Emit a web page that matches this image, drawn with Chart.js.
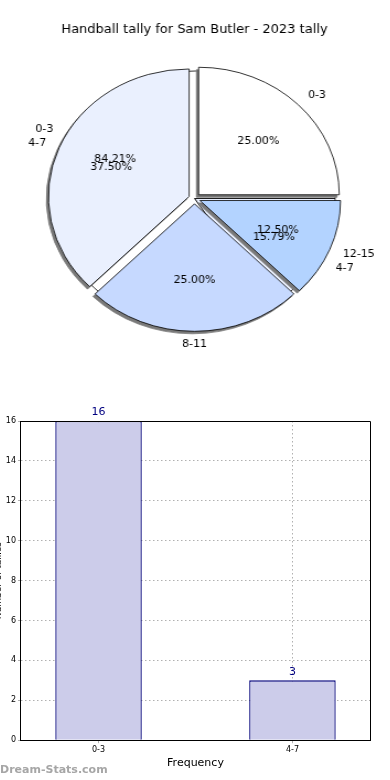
<!DOCTYPE html>
<html>
<head>
<meta charset="utf-8">
<script src="https://cdn.jsdelivr.net/npm/chart.js@4.4.1/dist/chart.umd.min.js"></script>
<style>
html, body { margin:0; padding:0; background:#fff; width:390px; height:780px; overflow:hidden; position:relative; }
.box { position:absolute; }
</style>
</head>
<body>
<div class="box" id="pieBackBox"><canvas id="pieBack"></canvas></div>
<div class="box" id="pieFrontBox"><canvas id="pieFront"></canvas></div>
<div class="box" id="barBox"><canvas id="bar"></canvas></div>
<script>
// Chart data
const chartTitle = 'Handball tally for Sam Butler - 2023 tally';

// outer pie: share of each goal band (percent)
const tallyLabels = ['0-3', '4-7', '8-11', '12-15'];
const tallyPct = [25.00, 37.50, 25.00, 12.50];
const tallyColors = ['#ffffff', '#eaf0fe', '#c6d9ff', '#b3d3ff'];

// frequency of each band (bar chart + hidden pie)
const freqLabels = ['0-3', '4-7'];
const freqCounts = [16, 3];
const freqColors = ['#ffffff', '#eaf0fe'];

const yMin = 0, yMax = 16, yStep = 2;

// layout
const PIE_R = 127.5;
const PIE_CX = 194.5;   // pie centre on the page
const PIE_CY = 198.5;
const SX = 1.103;       // the original pie is a bit wider than tall
const EXPLODE = 5.3;    // how far slices are pushed out
const BAR_LEFT = -7;    // y title is cut by the page edge in the original
const FONT = '"DejaVu Sans", sans-serif';

function place(id, left, top, w, h) {
    const s = document.getElementById(id).style;
    s.left = left + 'px'; s.top = top + 'px'; s.width = w + 'px'; s.height = h + 'px';
}
place('pieBackBox', 0, 0, 390, 400);
place('pieFrontBox', 0, 0, 390, 400);
place('barBox', BAR_LEFT, 400, 390 - BAR_LEFT, 380);
['pieBackBox', 'pieFrontBox'].forEach(id => {
    const s = document.getElementById(id).style;
    s.transformOrigin = PIE_CX + 'px 0';
    s.transform = 'scaleX(' + SX + ')';
});

const freqTotal = freqCounts.reduce((a, b) => a + b, 0);
const freqPct = freqCounts.map(v => v / freqTotal * 100);

// matplotlib draws counter-clockwise from 3 o'clock, Chart.js only clockwise -> reverse
const rev = a => a.slice().reverse();

function pieConfig(labels, values, pct, colors, plugins) {
    return {
        type: 'pie',
        data: {
            labels: rev(labels),
            datasets: [{
                data: rev(values),
                pct: rev(pct),
                backgroundColor: rev(colors),
                borderColor: '#000',
                borderWidth: 0.8
            }]
        },
        options: {
            responsive: true,
            maintainAspectRatio: false,
            animation: false,
            rotation: 90,
            radius: PIE_R,
            layout: { padding: { top: 48, bottom: 400 - 2 * PIE_CY + 48, right: 390 - 2 * PIE_CX } },
            plugins: { legend: { display: false }, tooltip: { enabled: false } }
        },
        plugins: plugins || []
    };
}

// back pie (frequency split), mostly hidden under the front one
const backChart = new Chart(document.getElementById('pieBack'),
    pieConfig(freqLabels, freqCounts, freqPct, freqColors));

// push every slice of the front pie out along its middle angle
const pieExplode = {
    id: 'pieExplode',
    afterDatasetUpdate(chart, args) {
        args.meta.data.forEach(arc => {
            const mid = (arc.startAngle + arc.endAngle) / 2;
            arc.x += Math.cos(mid) * EXPLODE;
            arc.y += Math.sin(mid) * EXPLODE;
        });
    }
};

// gray shadow under the front pie
const pieShadow = {
    id: 'pieShadow',
    beforeDatasetsDraw(chart) {
        const ctx = chart.ctx;
        chart.getDatasetMeta(0).data.forEach(arc => {
            const o = arc.options;
            ctx.save();
            ctx.translate(-2, 2.5);
            arc.options = Object.assign({}, o, { backgroundColor: '#7a7a7a', borderColor: '#7a7a7a' });
            arc.draw(ctx);
            arc.options = o;
            ctx.restore();
        });
    }
};

// text drawn un-stretched inside the stretched canvas
function putText(ctx, txt, x, y, align) {
    ctx.save();
    ctx.translate(x, y);
    ctx.scale(1 / SX, 1);
    ctx.textAlign = align;
    ctx.fillText(txt, 0, 0);
    ctx.restore();
}

// title, category labels and percentages for both pies
const pieText = {
    id: 'pieText',
    afterDraw(chart) {
        const ctx = chart.ctx;
        ctx.save();
        ctx.fillStyle = '#000';
        ctx.textBaseline = 'middle';
        ctx.font = '13px ' + FONT;
        putText(ctx, chartTitle, PIE_CX, 30, 'center');
        ctx.font = '11px ' + FONT;
        [backChart, chart].forEach(c => {
            const ds = c.data.datasets[0];
            const shift = c === backChart ? EXPLODE : 0;
            c.getDatasetMeta(0).data.forEach((arc, i) => {
                const mid = (arc.startAngle + arc.endAngle) / 2;
                const cos = Math.cos(mid), sin = Math.sin(mid);
                const lr = arc.outerRadius * 1.1 + shift;
                const pr = arc.outerRadius * 0.6 + shift;
                const align = cos > 0.02 ? 'left' : (cos < -0.02 ? 'right' : 'center');
                putText(ctx, c.data.labels[i], arc.x + cos * lr, arc.y + sin * lr, align);
                putText(ctx, ds.pct[i].toFixed(2) + '%', arc.x + cos * pr, arc.y + sin * pr, 'center');
            });
        });
        ctx.restore();
    }
};

new Chart(document.getElementById('pieFront'),
    pieConfig(tallyLabels, tallyPct, tallyPct, tallyColors, [pieExplode, pieShadow, pieText]));

// bar chart extras: top/right frame, value labels, watermark
const barExtras = {
    id: 'barExtras',
    afterDatasetsDraw(chart) {
        const { ctx, chartArea: a } = chart;
        ctx.save();
        ctx.strokeStyle = '#000';
        ctx.lineWidth = 1;
        ctx.beginPath();
        ctx.moveTo(a.left, a.top + 0.5);
        ctx.lineTo(a.right + 0.5, a.top + 0.5);
        ctx.lineTo(a.right + 0.5, a.bottom);
        ctx.stroke();
        ctx.font = '11px ' + FONT;
        ctx.fillStyle = '#000080';
        ctx.textAlign = 'center';
        ctx.textBaseline = 'bottom';
        chart.getDatasetMeta(0).data.forEach((bar, i) => {
            ctx.fillText(String(freqCounts[i]), bar.x, bar.y - 3);
        });
        ctx.restore();
    },
    afterDraw(chart) {
        const ctx = chart.ctx;
        ctx.save();
        ctx.font = 'bold 11px ' + FONT;
        ctx.fillStyle = '#a6a6a6';
        ctx.textAlign = 'left';
        ctx.textBaseline = 'middle';
        ctx.fillText('Dream-Stats.com', -BAR_LEFT, chart.height - 10);
        ctx.restore();
    }
};

const gridOpts = { color: '#b0b0b0', lineWidth: 1, tickLength: 3, tickColor: '#b0b0b0', offset: false };

new Chart(document.getElementById('bar'), {
    type: 'bar',
    data: {
        datasets: [{
            data: freqCounts.map((v, i) => ({ x: i, y: v })),
            backgroundColor: '#ccccea',
            borderColor: '#00007a',
            borderWidth: 1.3,
            categoryPercentage: 1,
            barPercentage: 0.446
        }]
    },
    options: {
        responsive: true,
        maintainAspectRatio: false,
        animation: false,
        layout: { padding: { top: 21, right: 20, bottom: 6 } },
        plugins: { legend: { display: false }, tooltip: { enabled: false } },
        scales: {
            x: {
                type: 'linear', min: -0.4, max: 1.4, offset: false, z: 1,
                afterBuildTicks: s => { s.ticks = freqLabels.map((_, i) => ({ value: i })); },
                ticks: { callback: v => freqLabels[v], color: '#000', font: { family: FONT, size: 8 }, padding: 2, maxRotation: 0 },
                grid: gridOpts,
                border: { color: '#000', width: 1, dash: [1.5, 2.5] },
                title: { display: true, text: 'Frequency', color: '#000', font: { family: FONT, size: 11 }, padding: { top: 0, bottom: 4 } }
            },
            y: {
                min: yMin, max: yMax,
                ticks: { stepSize: yStep, color: '#000', font: { family: FONT, size: 8 }, padding: 2 },
                grid: gridOpts,
                border: { color: '#000', width: 1, dash: [1.5, 2.5] },
                title: { display: true, text: 'Number of tallies', color: '#000', font: { family: FONT, size: 9 }, padding: 0 }
            }
        }
    },
    plugins: [barExtras]
});
</script>
</body>
</html>
